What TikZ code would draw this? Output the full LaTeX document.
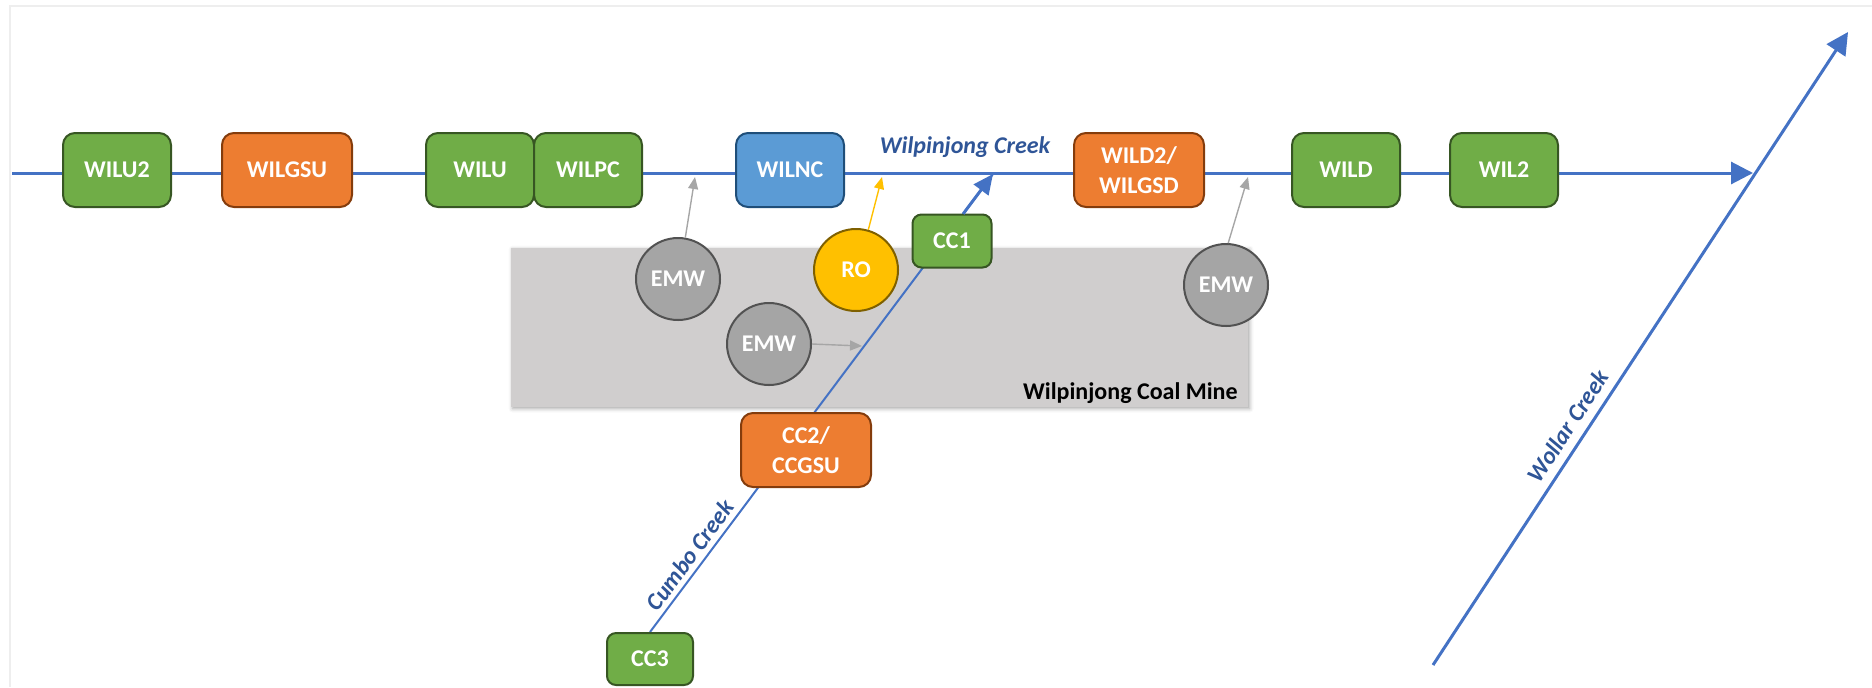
\documentclass[tikz,border=0pt]{standalone}
\usepackage{fontspec}
\setmainfont{Carlito}
\usetikzlibrary{arrows.meta,shapes.geometric,shadows.blur,calc}
\definecolor{linec}{HTML}{4472C4}
\definecolor{lblc}{HTML}{2F5597}
\definecolor{gfill}{HTML}{70AD47}
\definecolor{gdraw}{HTML}{375623}
\definecolor{ofill}{HTML}{ED7D31}
\definecolor{odraw}{HTML}{843C0C}
\definecolor{bfill}{HTML}{5B9BD5}
\definecolor{bdraw}{HTML}{1F4E79}
\definecolor{cfill}{HTML}{A5A5A5}
\definecolor{cdraw}{HTML}{525252}
\definecolor{yfill}{HTML}{FFC000}
\definecolor{ydraw}{HTML}{7F6000}
\definecolor{minefill}{HTML}{D0CECE}
\definecolor{framec}{HTML}{EEEEEE}
\definecolor{arrowgray}{HTML}{A6A6A6}
\pgfdeclarelayer{back}
\pgfdeclarelayer{bg}
\pgfsetlayers{back,bg,main}
\begin{document}
\begin{tikzpicture}[x=0.5pt,y=-0.5pt,
  site/.style={rectangle, rounded corners=6pt, line width=1pt, text=white,
    font=\fontsize{12}{15}\selectfont\bfseries, align=center, inner sep=0pt,
    minimum height=37pt},
  gsite/.style={site, fill=gfill, draw=gdraw, minimum width=54pt},
  osite/.style={site, fill=ofill, draw=odraw, minimum width=65pt},
  bsite/.style={site, fill=bfill, draw=bdraw, minimum width=54pt},
  smallsite/.style={gsite, rounded corners=4.5pt, minimum height=26.5pt},
  emw/.style={ellipse, fill=cfill, draw=cdraw, line width=1pt, minimum width=42pt,
    minimum height=41pt, inner sep=0pt, text=white, font=\fontsize{12}{15}\selectfont\bfseries},
  ro/.style={emw, fill=yfill, draw=ydraw},
  creek/.style={draw=linec, line width=1.5pt, -{Triangle[length=11pt,width=11pt]}},
  thincreek/.style={draw=linec, line width=1pt},
  feed/.style={draw=arrowgray, line width=0.7pt, -{Triangle[length=6pt,width=5pt]}},
  rofeed/.style={feed, draw=yfill},
  clabel/.style={text=lblc, inner sep=0pt, font=\fontsize{12}{14}\selectfont\bfseries\itshape},
  minelabel/.style={text=black, inner sep=0pt, font=\fontsize{12}{14}\selectfont\bfseries},
]
\useasboundingbox (0,0) rectangle (1872,687);

% frame
\draw[framec, line width=1pt] (10,687) -- (10,6) -- (1872,6);

% mine area
\begin{pgfonlayer}{back}
\fill[minefill, blur shadow={shadow xshift=0.8pt, shadow yshift=-0.8pt, shadow blur radius=2pt, shadow opacity=35}]
  (511,248) rectangle (1248,407);
\end{pgfonlayer}
\node[minelabel, anchor=east] (mine) at (1238,393) {Wilpinjong Coal Mine};

% coordinates
\coordinate (mstart) at (12,173);
\coordinate (mtip) at (1753,173);
\coordinate (wstart) at (1433,665);
\coordinate (wtip) at (1848,32);
\coordinate (ctip) at (993,174);
\coordinate (f1) at (695,177);
\coordinate (f2) at (882,177);
\coordinate (f3) at (1248,177);
\coordinate (f4) at (862,346);

% sites
\node[gsite] (WILU2) at (117,170) {WILU2};
\node[osite] (WILGSU) at (287,170) {WILGSU};
\node[gsite] (WILU) at (480,170) {WILU};
\node[gsite] (WILPC) at (588,170) {WILPC};
\node[bsite] (WILNC) at (790,170) {WILNC};
\node[osite] (WILD2) at (1139,170) {WILD2/\\WILGSD};
\node[gsite] (WILD) at (1346,170) {WILD};
\node[gsite] (WIL2) at (1504,170) {WIL2};
\node[smallsite, minimum width=39.5pt] (CC1) at (952,241) {CC1};
\node[osite] (CC2) at (806,450) {CC2/\\CCGSU};
\node[smallsite, minimum width=43pt, minimum height=26pt] (CC3) at (650,659) {CC3};

\node[emw] (EMW1) at (678,279) {EMW};
\node[ro] (RO) at (856,270) {RO};
\node[emw] (EMW2) at (769,344) {EMW};
\node[emw] (EMW3) at (1226,285) {EMW};

% creeks
\begin{pgfonlayer}{bg}
\draw[creek] (mstart) -- (mtip);
\draw[creek] (wstart) -- (wtip);
\draw[thincreek] (CC3.north) -- (ctip);
\end{pgfonlayer}
\draw[creek, -{Triangle[length=10pt,width=9pt]}] ($(CC3.north)!0.913!(ctip)$) -- (ctip);

% feeds
\draw[feed] (EMW1.80) -- (f1);
\draw[rofeed] (RO.73) -- (f2);
\draw[feed] (EMW3.87) -- (f3);
\draw[feed] (EMW2.east) -- (f4);

% labels
\node[clabel] (lblW) at (965,147) {Wilpinjong Creek};
\node[clabel, rotate=53.4] (lblC) at (690,555) {Cumbo Creek};
\node[clabel, rotate=56.7] (lblWo) at (1568,426) {Wollar Creek};
\end{tikzpicture}
\end{document}
